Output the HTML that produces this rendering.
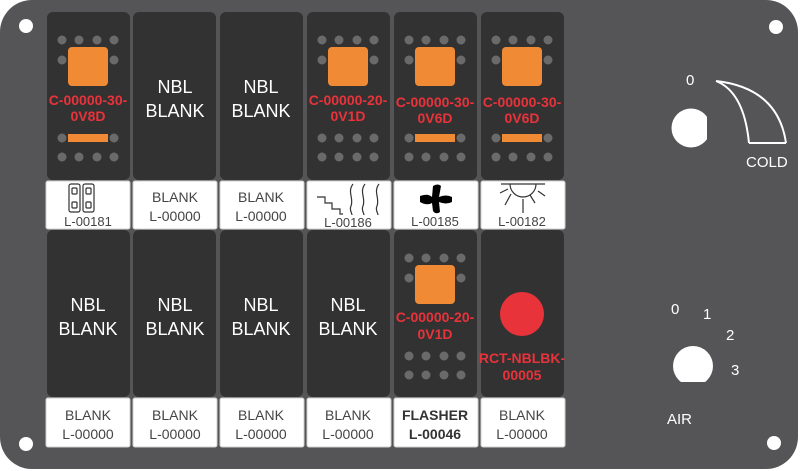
<!DOCTYPE html>
<html><head><meta charset="utf-8"><style>
html,body{margin:0;padding:0;background:#fff;width:800px;height:471px;overflow:hidden}
svg{display:block}
text{font-family:"Liberation Sans",sans-serif}
</style></head><body>
<svg width="800" height="471" viewBox="0 0 800 471" xmlns="http://www.w3.org/2000/svg">
<defs>
<g id="d4" fill="#6a6a6a"><circle cx="15" cy="0" r="4.5"/><circle cx="32" cy="0" r="4.5"/><circle cx="50" cy="0" r="4.5"/><circle cx="67" cy="0" r="4.5"/></g>
<g id="d2" fill="#6a6a6a"><circle cx="15" cy="0" r="4.5"/><circle cx="67" cy="0" r="4.5"/></g>
<g id="sq"><use href="#d4" y="40"/><use href="#d2" y="60"/><rect x="21" y="47" width="40" height="39" rx="4" fill="#f08a35"/></g>
<g id="bar"><use href="#d2" y="138"/><rect x="21" y="134" width="40" height="8" fill="#f08a35"/><use href="#d4" y="157"/></g>
<g id="two"><use href="#d4" y="138"/><use href="#d4" y="157"/></g>
<clipPath id="c1"><rect x="600" y="80" width="107" height="100"/></clipPath>
<clipPath id="c2"><rect x="640" y="320" width="100" height="62"/></clipPath>
</defs>
<rect x="0" y="0" width="798" height="469" rx="32" fill="#555557"/>
<g fill="#fff"><circle cx="26" cy="26" r="7"/><circle cx="776" cy="27" r="7"/><circle cx="26" cy="444" r="7"/><circle cx="774" cy="443" r="7"/></g>

<g fill="#333233">
<rect x="47" y="12" width="83" height="168" rx="6"/><rect x="133" y="12" width="83" height="168" rx="6"/><rect x="220" y="12" width="83" height="168" rx="6"/><rect x="307" y="12" width="83" height="168" rx="6"/><rect x="394" y="12" width="83" height="168" rx="6"/><rect x="481" y="12" width="83" height="168" rx="6"/>
<rect x="47" y="230" width="83" height="167" rx="6"/><rect x="133" y="230" width="83" height="167" rx="6"/><rect x="220" y="230" width="83" height="167" rx="6"/><rect x="307" y="230" width="83" height="167" rx="6"/><rect x="394" y="230" width="83" height="167" rx="6"/><rect x="481" y="230" width="83" height="167" rx="6"/>
</g>
<g fill="#fff" stroke="#cfcfcf" stroke-width="1">
<rect x="46" y="181" width="84" height="48" rx="2"/><rect x="133" y="181" width="84" height="48" rx="2"/><rect x="220" y="181" width="84" height="48" rx="2"/><rect x="307" y="181" width="84" height="48" rx="2"/><rect x="394" y="181" width="84" height="48" rx="2"/><rect x="481" y="181" width="84" height="48" rx="2"/>
<rect x="46" y="398" width="84" height="49" rx="2"/><rect x="133" y="398" width="84" height="49" rx="2"/><rect x="220" y="398" width="84" height="49" rx="2"/><rect x="307" y="398" width="84" height="49" rx="2"/><rect x="394" y="398" width="84" height="49" rx="2"/><rect x="481" y="398" width="84" height="49" rx="2"/>
</g>

<g transform="translate(47,0)"><use href="#sq"/><use href="#bar"/></g>
<g transform="translate(307,0)"><use href="#sq"/><use href="#two"/></g>
<g transform="translate(394,0)"><use href="#sq"/><use href="#bar"/></g>
<g transform="translate(481,0)"><use href="#sq"/><use href="#bar"/></g>
<g transform="translate(394,218)"><use href="#sq"/><use href="#two"/></g>
<circle cx="522" cy="314" r="22" fill="#e8333a"/>

<g fill="#e8333a" font-weight="bold" font-size="14" text-anchor="middle">
<text x="88" y="105">C-00000-30-</text><text x="88" y="121">0V8D</text>
<text x="348" y="105">C-00000-20-</text><text x="348" y="121">0V1D</text>
<text x="435" y="107">C-00000-30-</text><text x="435" y="123">0V6D</text>
<text x="522" y="107">C-00000-30-</text><text x="522" y="123">0V6D</text>
<text x="435" y="322">C-00000-20-</text><text x="435" y="339">0V1D</text>
<text x="522" y="363">RCT-NBLBK-</text><text x="522" y="380">00005</text>
</g>

<g fill="#fff" font-size="18" text-anchor="middle">
<text x="175" y="93">NBL</text><text x="175" y="117">BLANK</text>
<text x="261" y="93">NBL</text><text x="261" y="117">BLANK</text>
<text x="88" y="311">NBL</text><text x="88" y="335">BLANK</text>
<text x="175" y="311">NBL</text><text x="175" y="335">BLANK</text>
<text x="261" y="311">NBL</text><text x="261" y="335">BLANK</text>
<text x="348" y="311">NBL</text><text x="348" y="335">BLANK</text>
</g>

<g fill="#444" font-size="14" text-anchor="middle">
<text x="175" y="202">BLANK</text><text x="175" y="221">L-00000</text>
<text x="261" y="202">BLANK</text><text x="261" y="221">L-00000</text>
<text x="88" y="226" font-size="13">L-00181</text>
<text x="348" y="227" font-size="13">L-00186</text>
<text x="435" y="226" font-size="13">L-00185</text>
<text x="522" y="226" font-size="13">L-00182</text>
<text x="88" y="420">BLANK</text><text x="88" y="439">L-00000</text>
<text x="175" y="420">BLANK</text><text x="175" y="439">L-00000</text>
<text x="261" y="420">BLANK</text><text x="261" y="439">L-00000</text>
<text x="348" y="420">BLANK</text><text x="348" y="439">L-00000</text>
<text x="522" y="420">BLANK</text><text x="522" y="439">L-00000</text>
<text x="435" y="420" font-weight="bold" fill="#333">FLASHER</text><text x="435" y="439" font-weight="bold" fill="#333">L-00046</text>
</g>

<g fill="none" stroke="#333" stroke-width="1.2">
<rect x="69" y="184" width="11" height="28" rx="2"/><rect x="83" y="184" width="11" height="28" rx="2"/>
<rect x="72" y="188" width="5" height="6" rx="1"/><rect x="72" y="202" width="5" height="6" rx="1"/>
<rect x="86" y="188" width="5" height="6" rx="1"/><rect x="86" y="202" width="5" height="6" rx="1"/>
<path d="M317 197 H325 V203 H332 V209 H340 V214 H343"/>
<path d="M353 184 C347 192 354 198 351 206 C349 210 352 213 352 215"/>
<path d="M365 184 C359 192 366 198 363 206 C361 210 364 213 364 215"/>
<path d="M379 184 C373 192 380 198 377 206 C375 210 378 213 378 215"/>
<path d="M501 184 H545 M510 184 A13 13 0 0 0 536 184"/>
<path d="M500 193 L508 189 M505 205 L511 194 M523 213 V199 M535 203 L530 195 M545 196 L538 191"/>
</g>
<path d="M420 196 Q428 193 432 197 L433 186 Q438 183 441 186 L439 197 Q446 194 452 197 L452 202 Q446 205 439 202 L440 212 Q436 215 433 211 L432 203 Q427 206 420 202 Z" fill="#000"/>

<circle cx="691" cy="128" r="19.5" fill="#fff" clip-path="url(#c1)"/>
<circle cx="693" cy="366" r="20" fill="#fff" clip-path="url(#c2)"/>
<path d="M716 81 Q744 92 749 143 M716 81 Q778 88 786 143 M749 143 H786" fill="none" stroke="#fff" stroke-width="2"/>
<g fill="#fff" font-size="15">
<text x="686" y="85">0</text>
<text x="746" y="167">COLD</text>
<text x="671" y="314">0</text>
<text x="703" y="319">1</text>
<text x="726" y="340">2</text>
<text x="731" y="375">3</text>
<text x="667" y="424">AIR</text>
</g>
</svg>
</body></html>
